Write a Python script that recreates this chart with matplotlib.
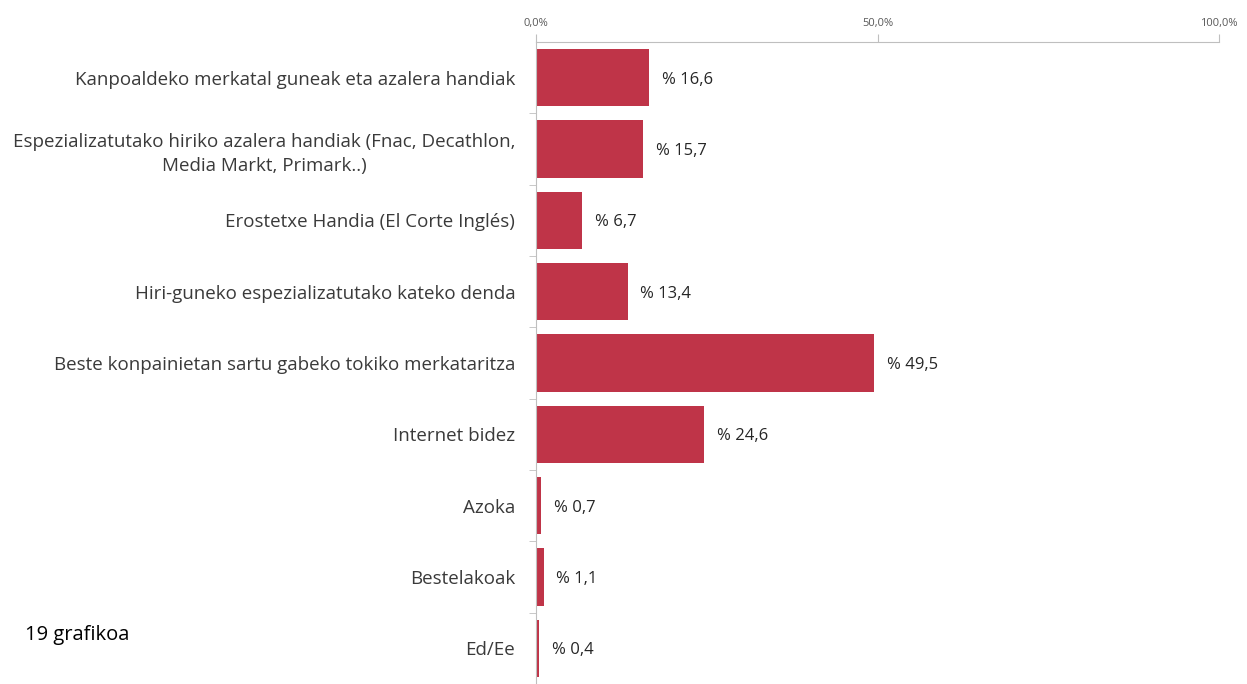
import matplotlib.pyplot as plt
import numpy as np

categories = [
    'Kanpoaldeko merkatal guneak eta azalera handiak',
    'Espezializatutako hiriko azalera handiak (Fnac, Decathlon,\nMedia Markt, Primark..)',
    'Erostetxe Handia (El Corte Inglés)',
    'Hiri-guneko espezializatutako kateko denda',
    'Beste konpainietan sartu gabeko tokiko merkataritza',
    'Internet bidez',
    'Azoka',
    'Bestelakoak',
    'Ed/Ee',
]
values = [16.6, 15.7, 6.7, 13.4, 49.5, 24.6, 0.7, 1.1, 0.4]
xticks = [0, 50, 100]
xtick_labels = ['0,0%', '50,0%', '100,0%']

plt.rcParams['font.family'] = ['Open Sans', 'DejaVu Sans']

fig = plt.figure(figsize=(12.47, 6.84), dpi=100)
ax = fig.add_axes([536 / 1247, 0.0, (1219 - 536) / 1247, 1 - 42 / 684])

y = np.arange(len(categories))
ax.barh(y, values, height=0.8, color='#BF3448')

ax.set_ylim(len(categories) - 0.5, -0.5)
ax.set_xlim(0, 100)

# x axis on top
ax.xaxis.tick_top()
ax.set_xticks(xticks)
ax.set_xticklabels(xtick_labels, fontsize=8, color='#595959')
ax.tick_params(axis='x', length=6, color='#BFBFBF', pad=3.5)

# category labels
ax.set_yticks(y)
ax.set_yticklabels(categories, fontsize=13.5, color='#3a3a3a', ha='right',
                   multialignment='center', linespacing=1.45)
ax.tick_params(axis='y', length=0, pad=15)
ax.set_yticks(np.arange(len(categories) - 1) + 0.5, minor=True)
ax.tick_params(axis='y', which='minor', length=5, color='#BFBFBF')

for side in ['right', 'bottom']:
    ax.spines[side].set_visible(False)
for side in ['left', 'top']:
    ax.spines[side].set_color('#BFBFBF')

for yi, v in zip(y, values):
    ax.text(v + 1.9, yi + 0.03, '% ' + f'{v:.1f}'.replace('.', ','), va='center', ha='left',
            fontsize=12, color='#262626')

fig.text(25 / 1247, 1 - 635 / 684, '19 grafikoa', fontsize=14.5, color='black', va='center')

fig.savefig('out.png', dpi=100)
